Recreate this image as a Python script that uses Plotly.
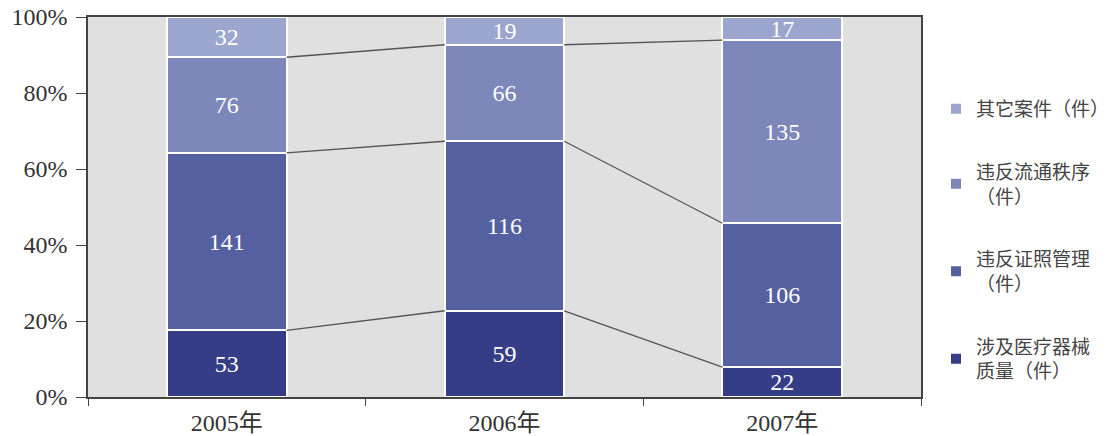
import plotly.graph_objects as go

years = ["2005年", "2006年", "2007年"]
series_names = ["涉及医疗器械<br>质量（件）", "违反证照管理<br>（件）", "违反流通秩序<br>（件）", "其它案件（件）"]
quality = [53, 59, 22]
license_ = [141, 116, 106]
circulation = [76, 66, 135]
other = [32, 19, 17]
colors = ["#353d86", "#5560a0", "#7d87b9", "#9ba5cd"]

series = [quality, license_, circulation, other]
BAR_W = 0.43
FONT = "Liberation Serif, Noto Sans CJK SC, serif"

fig = go.Figure()
n = len(series)
for idx, (name, vals, col) in enumerate(zip(series_names, series, colors)):
    fig.add_trace(go.Bar(
        x=years, y=vals, name=name, width=BAR_W,
        marker=dict(color=col, line=dict(color="white", width=2)),
        text=[str(v) for v in vals], textposition="inside", textangle=0,
        insidetextanchor="middle", constraintext="none",
        textfont=dict(color="white", size=24, family=FONT),
        legendgroup=name, legendrank=n - idx,
    ))

# connector lines between cumulative boundaries
totals = [sum(s[i] for s in series) for i in range(len(years))]
cum = []
for i in range(len(years)):
    acc = 0
    row = []
    for s in series[:-1]:
        acc += s[i]
        row.append(acc / totals[i] * 100)
    cum.append(row)

shapes = []
for i in range(len(years) - 1):
    for k in range(len(series) - 1):
        shapes.append(dict(type="line", xref="x", yref="y",
                           x0=i + BAR_W / 2, x1=i + 1 - BAR_W / 2,
                           y0=cum[i][k], y1=cum[i + 1][k],
                           line=dict(color="#555555", width=1.3), layer="above"))

fig.update_layout(
    width=1116, height=436,
    margin=dict(l=88, r=195, t=17, b=39, autoexpand=False),
    barmode="stack", barnorm="percent",
    plot_bgcolor="#e0e0e0", paper_bgcolor="white",
    shapes=shapes,
    showlegend=True,
    legend=dict(x=1.018, y=0.808, xanchor="left", yanchor="top",
                traceorder="grouped", tracegroupgap=35,
                font=dict(family=FONT, size=19, color="#444444"),
                bgcolor="rgba(0,0,0,0)"),
    font=dict(family=FONT, color="#333333"),
)
fig.update_xaxes(type="category", tickson="boundaries", ticks="outside",
                 ticklen=7, tickcolor="#444444", showline=True,
                 linecolor="#444444", linewidth=1.5, mirror=True, automargin=False,
                 showgrid=False, ticklabelstandoff=3,
                 tickfont=dict(size=24, family=FONT, color="#333333"))
fig.update_yaxes(range=[0, 100], dtick=20, ticksuffix="%", ticks="outside",
                 ticklen=10, tickcolor="#444444", showline=True,
                 linecolor="#444444", linewidth=1.5, mirror=True, automargin=False,
                 showgrid=False, zeroline=False, ticklabelstandoff=4,
                 tickfont=dict(size=24, family=FONT, color="#333333"))

fig.write_html("out.html", config={"displayModeBar": False},
               post_script="document.body.style.margin='0';")
